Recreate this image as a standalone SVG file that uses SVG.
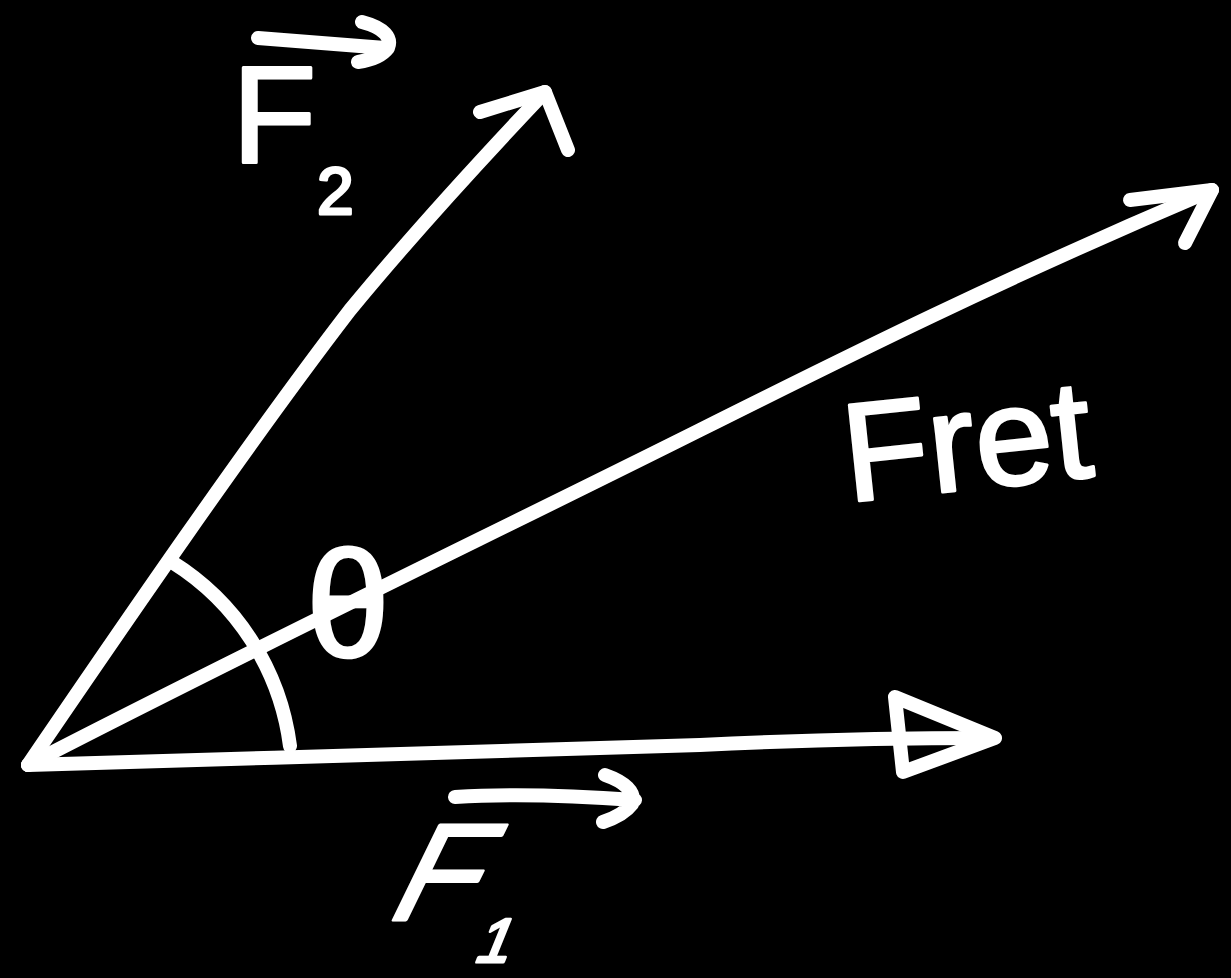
<svg xmlns="http://www.w3.org/2000/svg" width="1231" height="978" viewBox="0 0 1231 978">
<style>
.s{fill:none;stroke:#fff;stroke-width:14;stroke-linecap:round;stroke-linejoin:round}
.t{fill:#fff;stroke:#fff;stroke-width:3;stroke-linejoin:round;font-family:"Liberation Sans",Arial,sans-serif}
</style>
<rect width="1231" height="978" fill="#000"/>
<g id="connectors">
<path id="f2-vector" class="s" d="M28,765 C120,630 250,440 350,310 C420,225 490,150 545,92"/>
<path class="s" d="M480,112 L545,92 L568,150"/>
<path id="fnet-vector" class="s" d="M28,765 C250,650 500,530 700,430 C850,355 1000,280 1212,190"/>
<path class="s" d="M1130,200 L1212,190 L1185,243"/>
<path id="f1-vector" class="s" d="M28,765 C250,758 500,752 700,745 C800,740 900,738 990,738"/>
<path class="s" d="M895,697 L995,738 L903,772 Z"/>
<path id="angle-arc" class="s" d="M172,562 A255,255 0 0 1 290,746"/>
</g>
<g id="label-f2">
<path class="s" d="M258,38 L385,48 M362,22 C385,28 392,38 388,48 C382,56 372,60 358,62"/>
<text class="t" x="232" y="162" font-size="138">F</text>
<text class="t" x="317" y="214" font-size="66">2</text>
</g>
<g id="label-f1">
<path class="s" d="M455,797 C520,793 580,796 635,800 M605,775 C625,782 636,792 632,804 C626,812 615,818 603,822"/>
<text class="t" font-size="138" transform="translate(382,920) skewX(-26)">F</text>
<text class="t" font-size="62" transform="translate(472,962) skewX(-22)">1</text>
</g>
<g id="label-fnet">
<text class="t" font-size="140" transform="translate(848,502) rotate(-6)">Fret</text>
</g>
<g id="label-theta">
<text class="t" x="348" y="656" font-size="150" text-anchor="middle">θ</text>
</g>
</svg>
